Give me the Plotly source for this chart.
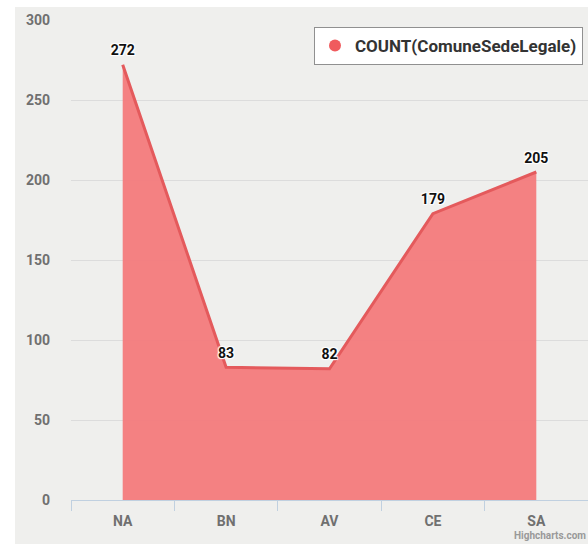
import plotly.graph_objects as go

categories = ["NA", "BN", "AV", "CE", "SA"]
counts = [272, 83, 82, 179, 205]
series_name = "COUNT(ComuneSedeLegale)"
y_ticks = [0, 50, 100, 150, 200, 250, 300]

FONT = "Roboto"
W, H = 588, 544
ML, MR, MT, MB = 71, 0, 20, 44

fig = go.Figure()
fig.add_trace(go.Scatter(
    x=categories, y=counts, name=series_name,
    mode="lines+markers+text", fill="tozeroy",
    fillcolor="rgba(243,122,124,0.95)",
    line=dict(color="#e45a5c", width=3),
    marker=dict(size=8, color="rgba(0,0,0,0)"),
    text=[str(v) for v in counts], textposition="top center",
    textfont=dict(family=FONT, size=14, color="#111", weight="bold",
                  shadow="1px 1px 1px #fff, -1px -1px 1px #fff, 1px -1px 1px #fff, -1px 1px 1px #fff"),
    cliponaxis=False,
    hoverinfo="skip",
    showlegend=False,
))
# legend entry as circle marker
fig.add_trace(go.Scatter(
    x=[None], y=[None], name=series_name, mode="markers",
    marker=dict(color="#f05b5e", size=15, symbol="circle"),
    showlegend=True,
))

pw = W - ML - MR
ph = H - MT - MB
fig.add_shape(type="rect", xref="paper", yref="paper",
              x0=-(ML - 15) / pw, x1=1.02, y0=-0.1, y1=(ph + MT - 7) / ph,
              fillcolor="#efefed", line=dict(width=0), layer="below")

fig.update_layout(
    width=W, height=H,
    margin=dict(l=ML, r=MR, t=MT, b=MB),
    paper_bgcolor="#ffffff",
    plot_bgcolor="rgba(0,0,0,0)",
    font=dict(family=FONT, color="#666"),
    legend=dict(
        x=(583 - ML) / pw, y=(H - MB - 27) / ph, xanchor="right", yanchor="top",
        bgcolor="#ffffff", bordercolor="#909090", borderwidth=1,
        font=dict(family=FONT, size=17, color="#333", weight="bold"),
        itemsizing="constant",
    ),
    xaxis=dict(
        type="category", range=[-0.5, 4.5],
        showgrid=False, showline=True, linecolor="#c0d0e0", linewidth=1,
        ticks="outside", tickson="boundaries", ticklen=10, tickcolor="#c0d0e0",
        ticklabelstandoff=8,
        tickfont=dict(family=FONT, size=14, color="#707070", weight="bold"),
        zeroline=False,
    ),
    yaxis=dict(
        range=[0, 300], tickvals=y_ticks,
        showgrid=True, gridcolor="#dcdcdc", gridwidth=1,
        zeroline=False, showline=False, ticks="",
        ticklabelstandoff=20,
        tickfont=dict(family=FONT, size=14, color="#707070", weight="bold"),
    ),
)

fig.add_annotation(xref="paper", yref="paper", x=1.0, y=-(MB - 1) / ph,
                   xanchor="right", yanchor="bottom", showarrow=False,
                   text="<b>Highcharts.com</b>",
                   font=dict(family=FONT, size=10, color="#999999"))

fig.write_html("out.html",
               config={"displayModeBar": False},
               post_script="document.body.style.margin='0';document.body.style.overflow='hidden';")
